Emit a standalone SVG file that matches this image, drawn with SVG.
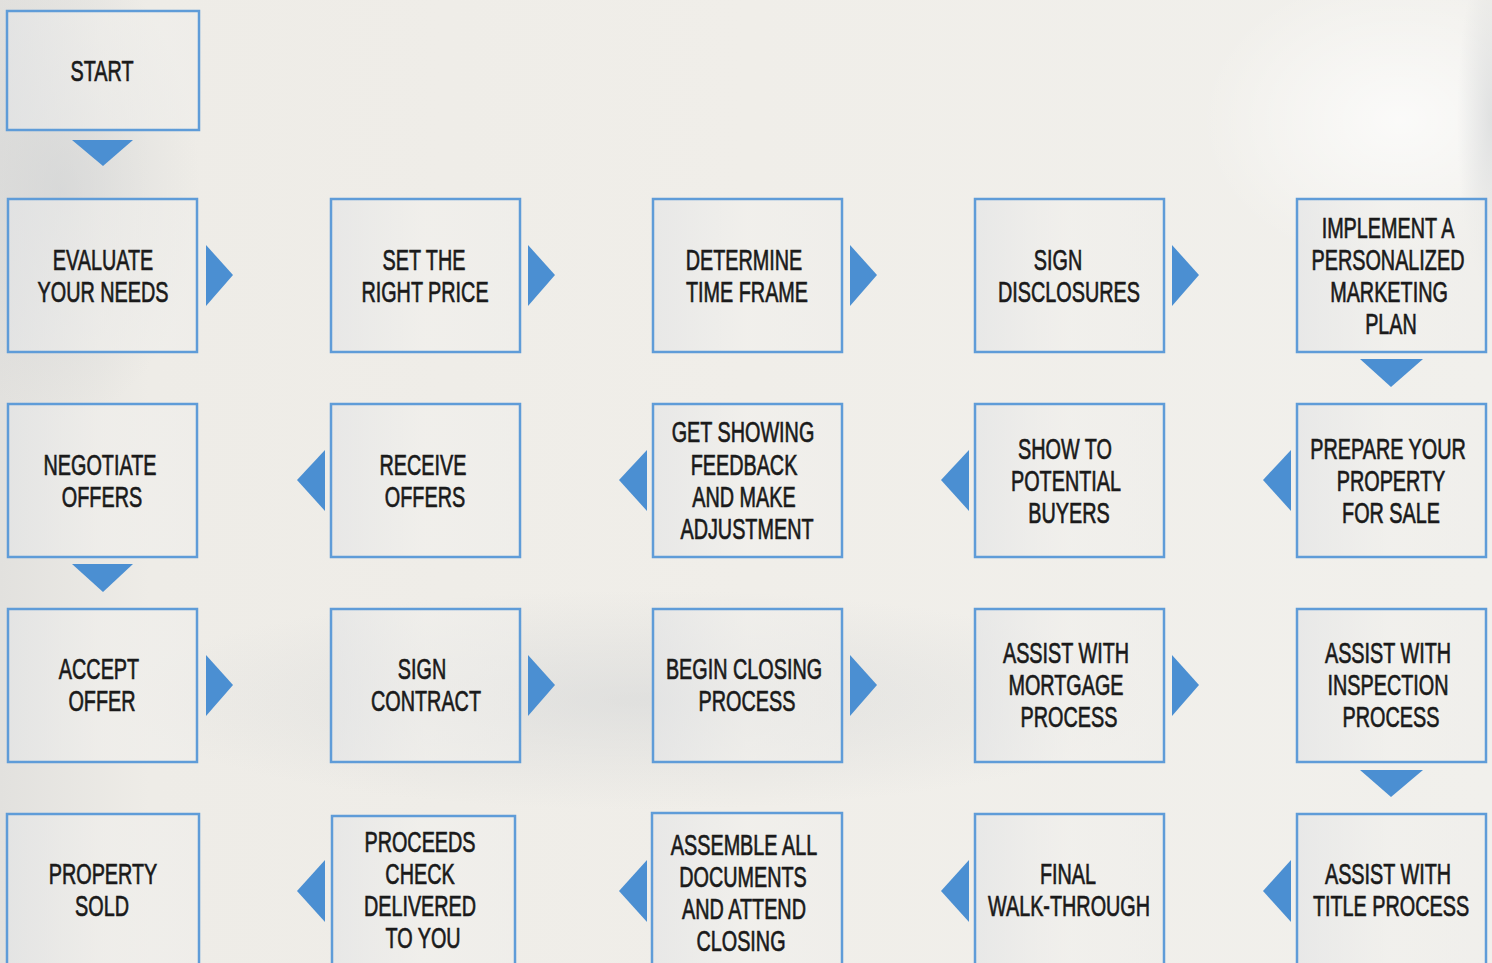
<svg xmlns="http://www.w3.org/2000/svg" width="1492" height="963" viewBox="0 0 1492 963">
<defs>
<linearGradient id="bg" x1="0" y1="0" x2="1" y2="0">
<stop offset="0" stop-color="#e2e1de"/>
<stop offset="0.1" stop-color="#eeece7"/>
<stop offset="0.5" stop-color="#f0eee9"/>
<stop offset="1" stop-color="#f1f0ec"/>
</linearGradient>
<radialGradient id="blob1" cx="0.5" cy="0.5" r="0.5">
<stop offset="0" stop-color="#c9cccf" stop-opacity="0.5"/>
<stop offset="1" stop-color="#c9cccf" stop-opacity="0"/>
</radialGradient>
<radialGradient id="blob2" cx="0.5" cy="0.5" r="0.5">
<stop offset="0" stop-color="#ffffff" stop-opacity="0.7"/>
<stop offset="1" stop-color="#ffffff" stop-opacity="0"/>
</radialGradient>
<linearGradient id="boxfill" x1="0" y1="0" x2="1" y2="0">
<stop offset="0" stop-color="#e4e5e6" stop-opacity="0.7"/>
<stop offset="0.5" stop-color="#f1f0ed" stop-opacity="0.6"/>
<stop offset="1" stop-color="#efeeeb" stop-opacity="0.6"/>
</linearGradient>
</defs>
<style>
.box{fill:url(#boxfill);stroke:#5f9cd8;stroke-width:2.5}
.arr{fill:#4b8fd2}
.t{font-family:"Liberation Sans",Arial,sans-serif;font-size:30px;fill:#1a1a1a;stroke:#1a1a1a;stroke-width:0.7;text-anchor:middle}
</style>
<rect x="0" y="0" width="1492" height="963" fill="url(#bg)"/>
<ellipse cx="60" cy="190" rx="140" ry="230" fill="url(#blob1)"/>
<ellipse cx="640" cy="700" rx="520" ry="110" fill="url(#blob1)" opacity="0.8"/>
<ellipse cx="1400" cy="120" rx="200" ry="150" fill="url(#blob2)"/>
<ellipse cx="1492" cy="120" rx="35" ry="170" fill="url(#blob1)"/>

<g id="connectors">
<polygon class="arr" points="72,140 133,140 103,166"/>
<polygon class="arr" points="206,245 233,275 206,306"/>
<polygon class="arr" points="528,245 555,275 528,306"/>
<polygon class="arr" points="850,245 877,275 850,306"/>
<polygon class="arr" points="1172,245 1199,275 1172,306"/>
<polygon class="arr" points="1360,359 1423,359 1391,387"/>
<polygon class="arr" points="1291,450 1263,480 1291,511"/>
<polygon class="arr" points="969,450 941,480 969,511"/>
<polygon class="arr" points="647,450 619,480 647,511"/>
<polygon class="arr" points="325,450 297,480 325,511"/>
<polygon class="arr" points="72,564 133,564 103,592"/>
<polygon class="arr" points="206,655 233,685 206,716"/>
<polygon class="arr" points="528,655 555,685 528,716"/>
<polygon class="arr" points="850,655 877,685 850,716"/>
<polygon class="arr" points="1172,655 1199,685 1172,716"/>
<polygon class="arr" points="1360,770 1423,770 1391,797"/>
<polygon class="arr" points="1291,860 1263,891 1291,922"/>
<polygon class="arr" points="969,860 941,891 969,922"/>
<polygon class="arr" points="647,860 619,891 647,922"/>
<polygon class="arr" points="325,860 297,891 325,922"/>
</g>

<g id="n-start"><rect class="box" x="7" y="11" width="192" height="119"/>
<text class="t" transform="translate(102,81) scale(0.66,1)">START</text></g>

<g id="n-evaluate"><rect class="box" x="8" y="199" width="189" height="153"/>
<text class="t" transform="translate(103,270) scale(0.66,1)">EVALUATE</text>
<text class="t" transform="translate(103,302) scale(0.66,1)">YOUR NEEDS</text></g>

<g id="n-setprice"><rect class="box" x="331" y="199" width="189" height="153"/>
<text class="t" transform="translate(424,270) scale(0.66,1)">SET THE</text>
<text class="t" transform="translate(425,302) scale(0.66,1)">RIGHT PRICE</text></g>

<g id="n-timeframe"><rect class="box" x="653" y="199" width="189" height="153"/>
<text class="t" transform="translate(744,270) scale(0.66,1)">DETERMINE</text>
<text class="t" transform="translate(747,302) scale(0.66,1)">TIME FRAME</text></g>

<g id="n-disclosures"><rect class="box" x="975" y="199" width="189" height="153"/>
<text class="t" transform="translate(1058,270) scale(0.66,1)">SIGN</text>
<text class="t" transform="translate(1069,302) scale(0.66,1)">DISCLOSURES</text></g>

<g id="n-marketing"><rect class="box" x="1297" y="199" width="189" height="153"/>
<text class="t" transform="translate(1388,238) scale(0.66,1)">IMPLEMENT A</text>
<text class="t" transform="translate(1388,270) scale(0.66,1)">PERSONALIZED</text>
<text class="t" transform="translate(1389,302) scale(0.66,1)">MARKETING</text>
<text class="t" transform="translate(1391,334) scale(0.66,1)">PLAN</text></g>

<g id="n-negotiate"><rect class="box" x="8" y="404" width="189" height="153"/>
<text class="t" transform="translate(100,475) scale(0.66,1)">NEGOTIATE</text>
<text class="t" transform="translate(102,507) scale(0.66,1)">OFFERS</text></g>

<g id="n-receive"><rect class="box" x="331" y="404" width="189" height="153"/>
<text class="t" transform="translate(423,475) scale(0.66,1)">RECEIVE</text>
<text class="t" transform="translate(425,507) scale(0.66,1)">OFFERS</text></g>

<g id="n-feedback"><rect class="box" x="653" y="404" width="189" height="153"/>
<text class="t" transform="translate(743,442) scale(0.66,1)">GET SHOWING</text>
<text class="t" transform="translate(744,475) scale(0.66,1)">FEEDBACK</text>
<text class="t" transform="translate(744,507) scale(0.66,1)">AND MAKE</text>
<text class="t" transform="translate(747,539) scale(0.66,1)">ADJUSTMENT</text></g>

<g id="n-show"><rect class="box" x="975" y="404" width="189" height="153"/>
<text class="t" transform="translate(1065,459) scale(0.66,1)">SHOW TO</text>
<text class="t" transform="translate(1066,491) scale(0.66,1)">POTENTIAL</text>
<text class="t" transform="translate(1069,523) scale(0.66,1)">BUYERS</text></g>

<g id="n-prepare"><rect class="box" x="1297" y="404" width="189" height="153"/>
<text class="t" transform="translate(1388,459) scale(0.66,1)">PREPARE YOUR</text>
<text class="t" transform="translate(1391,491) scale(0.66,1)">PROPERTY</text>
<text class="t" transform="translate(1391,523) scale(0.66,1)">FOR SALE</text></g>

<g id="n-accept"><rect class="box" x="8" y="609" width="189" height="153"/>
<text class="t" transform="translate(99,679) scale(0.66,1)">ACCEPT</text>
<text class="t" transform="translate(102,711) scale(0.66,1)">OFFER</text></g>

<g id="n-contract"><rect class="box" x="331" y="609" width="189" height="153"/>
<text class="t" transform="translate(422,679) scale(0.66,1)">SIGN</text>
<text class="t" transform="translate(426,711) scale(0.66,1)">CONTRACT</text></g>

<g id="n-closing"><rect class="box" x="653" y="609" width="189" height="153"/>
<text class="t" transform="translate(744,679) scale(0.66,1)">BEGIN CLOSING</text>
<text class="t" transform="translate(747,711) scale(0.66,1)">PROCESS</text></g>

<g id="n-mortgage"><rect class="box" x="975" y="609" width="189" height="153"/>
<text class="t" transform="translate(1066,663) scale(0.66,1)">ASSIST WITH</text>
<text class="t" transform="translate(1066,695) scale(0.66,1)">MORTGAGE</text>
<text class="t" transform="translate(1069,727) scale(0.66,1)">PROCESS</text></g>

<g id="n-inspection"><rect class="box" x="1297" y="609" width="189" height="153"/>
<text class="t" transform="translate(1388,663) scale(0.66,1)">ASSIST WITH</text>
<text class="t" transform="translate(1388,695) scale(0.66,1)">INSPECTION</text>
<text class="t" transform="translate(1391,727) scale(0.66,1)">PROCESS</text></g>

<g id="n-sold"><rect class="box" x="7" y="814" width="192" height="160"/>
<text class="t" transform="translate(103,884) scale(0.66,1)">PROPERTY</text>
<text class="t" transform="translate(102,916) scale(0.66,1)">SOLD</text></g>

<g id="n-proceeds"><rect class="box" x="332" y="816" width="183" height="160"/>
<text class="t" transform="translate(420,852) scale(0.66,1)">PROCEEDS</text>
<text class="t" transform="translate(420,884) scale(0.66,1)">CHECK</text>
<text class="t" transform="translate(420,916) scale(0.66,1)">DELIVERED</text>
<text class="t" transform="translate(423,948) scale(0.66,1)">TO YOU</text></g>

<g id="n-assemble"><rect class="box" x="652" y="813" width="190" height="160"/>
<text class="t" transform="translate(744,855) scale(0.66,1)">ASSEMBLE ALL</text>
<text class="t" transform="translate(743,887) scale(0.66,1)">DOCUMENTS</text>
<text class="t" transform="translate(744,919) scale(0.66,1)">AND ATTEND</text>
<text class="t" transform="translate(741,951) scale(0.66,1)">CLOSING</text></g>

<g id="n-walk"><rect class="box" x="975" y="814" width="189" height="160"/>
<text class="t" transform="translate(1068,884) scale(0.66,1)">FINAL</text>
<text class="t" transform="translate(1069,916) scale(0.66,1)">WALK-THROUGH</text></g>

<g id="n-title"><rect class="box" x="1297" y="814" width="189" height="160"/>
<text class="t" transform="translate(1388,884) scale(0.66,1)">ASSIST WITH</text>
<text class="t" transform="translate(1391,916) scale(0.66,1)">TITLE PROCESS</text></g>
</svg>
